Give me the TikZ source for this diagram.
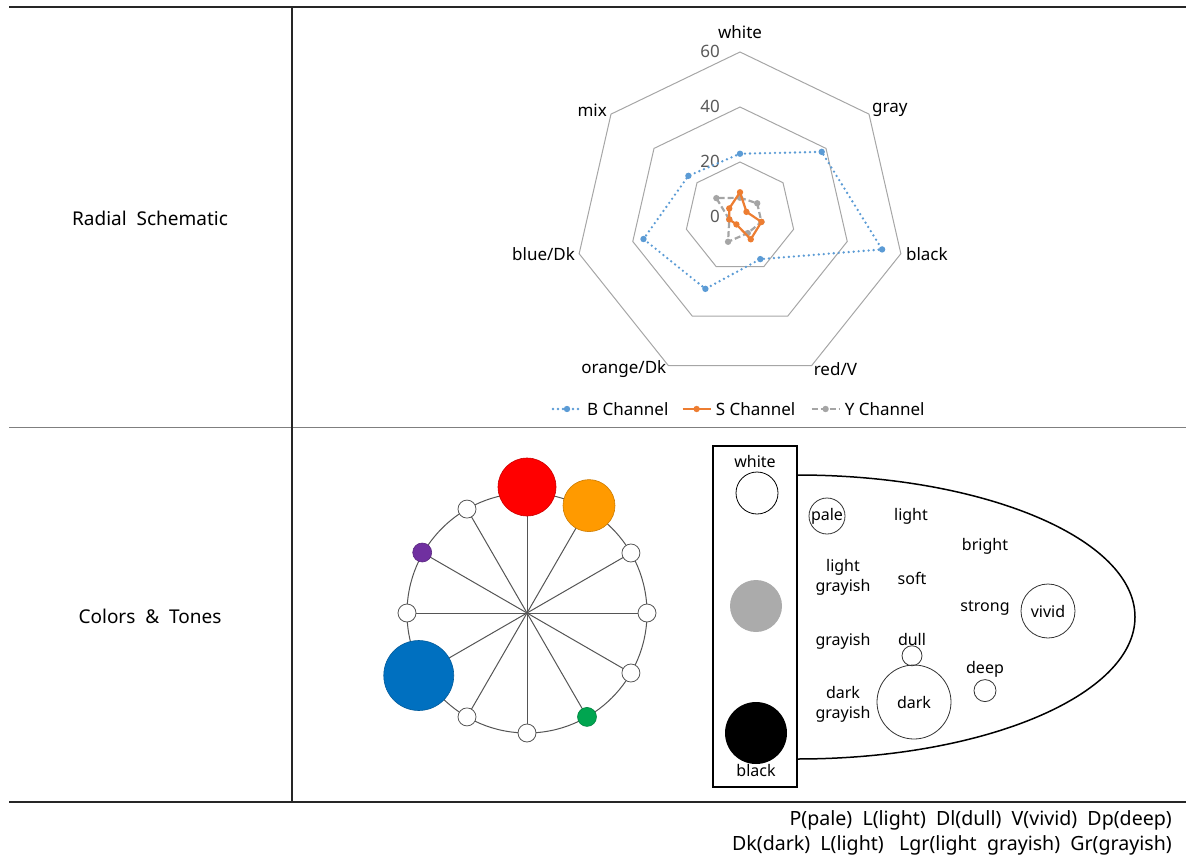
\documentclass[tikz,border=0pt]{standalone}
\usepackage{fontspec}
\setmainfont{Noto Sans}
\usetikzlibrary{positioning}

\definecolor{rulegray}{HTML}{7F7F7F}
\definecolor{gridgray}{HTML}{A6A6A6}
\definecolor{ticktext}{HTML}{595959}
\definecolor{bchan}{HTML}{5B9BD5}
\definecolor{schan}{HTML}{ED7D31}
\definecolor{ychan}{HTML}{A5A5A5}
\definecolor{hred}{HTML}{FF0000}
\definecolor{horange}{HTML}{FF9A00}
\definecolor{hblue}{HTML}{0070C0}
\definecolor{hgreen}{HTML}{00A550}
\definecolor{hpurple}{HTML}{7030A0}
\definecolor{tonegray}{HTML}{ABABAB}
\definecolor{wheelline}{HTML}{555555}

\newcommand{\lblfont}{\fontsize{17}{21}\selectfont}
\newcommand{\tonefont}{\fontsize{16}{20}\selectfont}
\newcommand{\rowfont}{\fontsize{19}{24}\selectfont}
\newcommand{\keyfont}{\fontsize{19.6}{24}\selectfont}

\tikzset{
  every node/.style={font=\lblfont, inner sep=1pt},
  table rule/.style={line width=1.5pt, draw=black!85},
  grid line/.style={draw=gridgray, line width=1pt},
  tick/.style={text=ticktext, anchor=east},
  bline/.style={draw=bchan, line width=2.6pt, line cap=round, dash pattern=on 0pt off 5pt},
  sline/.style={draw=schan, line width=2.2pt},
  yline/.style={draw=ychan, line width=2.2pt, dash pattern=on 6pt off 3pt},
  spoke/.style={draw=wheelline, line width=1pt},
  hue/.style={circle, draw=wheelline, fill=white, line width=0.8pt, inner sep=0pt, minimum size=#1},
  hue/.default=18pt,
  ring/.style={circle, draw=black!80, line width=0.8pt, inner sep=0pt, minimum size=#1},
  tone/.style={align=center, font=\tonefont},
  row/.style={font=\rowfont},
}

\begin{document}
\begin{tikzpicture}[x=1pt, y=-1pt]
\useasboundingbox (0,0) rectangle (1186,856);

% table frame
\draw[table rule] (9,7) -- (1186,7);
\draw[line width=1.2pt, draw=rulegray] (9,427.5) -- (1186,427.5);
\draw[line width=1.2pt, draw=black!85] (9,802) -- (1186,802);
\draw[table rule] (292,7) -- (292,802);
\node[row] (rowradar) at (150,218) {Radial\ \ Schematic};
\node[row] (rowtones) at (150,616) {Colors \ \&\ \ Tones};

% radar chart
\begin{scope}[shift={(740,217)}]
  \foreach \lv in {20,40,60}
    \draw[grid line] (-90:\lv*2.75) \foreach \k in {1,...,6}{ -- ({\k*360/7-90}:\lv*2.75)} -- cycle;
  \foreach \k in {0,...,6}
    \coordinate (v\k) at ({\k*360/7-90}:165);
  \foreach \lv in {0,20,40,60}
    \node[tick] (t\lv) at (-19,{-\lv*2.75-1}) {\lv};
  \node[above=12pt of v0] (ax-white) {white};
  \node[anchor=west, xshift=2pt, yshift=4pt] (ax-gray) at (v1) {gray};
  \node[anchor=west, xshift=4pt] (ax-black) at (v2) {black};
  \node[anchor=west, xshift=1pt, yshift=-3pt] (ax-red) at (v3) {red/V};
  \node[anchor=east, xshift=-1pt, yshift=-3pt] (ax-orange) at (v4) {orange/Dk};
  \node[anchor=east, xshift=-3pt] (ax-blue) at (v5) {blue/Dk};
  \node[anchor=east, xshift=-3pt, yshift=4pt] (ax-mix) at (v6) {mix};
  % B channel
  \foreach \v [count=\k from 0] in {23,38,53,17,29,36,24}
    \coordinate (b\k) at ({\k*360/7-90}:\v*2.75);
  \draw[bline] (b0) \foreach \k in {1,...,6}{ -- (b\k)} -- cycle;
  \foreach \k in {0,...,6} \fill[bchan] (b\k) circle (3.2pt);
  % Y channel
  \foreach \v [count=\k from 0] in {7,8,8,6.5,10,4,11}
    \coordinate (y\k) at ({\k*360/7-90}:\v*2.75);
  \draw[yline] (y0) \foreach \k in {1,...,6}{ -- (y\k)} -- cycle;
  \foreach \k in {0,...,6} \fill[ychan] (y\k) circle (3.2pt);
  % S channel
  \foreach \v [count=\k from 0] in {9,3,8,9,3,4,5}
    \coordinate (s\k) at ({\k*360/7-90}:\v*2.75);
  \draw[sline] (s0) \foreach \k in {1,...,6}{ -- (s\k)} -- cycle;
  \foreach \k in {0,...,6} \fill[schan] (s\k) circle (3.2pt);
\end{scope}

% legend
\node[anchor=west] (bleg) at (586,409) {B Channel};
\node[right=45pt of bleg] (sleg) {S Channel};
\node[right=47pt of sleg] (yleg) {Y Channel};
\draw[bline] ([xshift=-33pt]bleg.west) -- ([xshift=-4pt]bleg.west);
\fill[bchan] ([xshift=-19pt]bleg.west) circle (3.2pt);
\draw[sline] ([xshift=-32pt]sleg.west) -- ([xshift=-4pt]sleg.west);
\fill[schan] ([xshift=-18pt]sleg.west) circle (3.2pt);
\draw[yline] ([xshift=-32pt]yleg.west) -- ([xshift=-4pt]yleg.west);
\fill[ychan] ([xshift=-18pt]yleg.west) circle (3.2pt);

% hue wheel
\begin{scope}[shift={(527,613)}]
  \foreach \a in {0,30,...,150}
    \draw[spoke] (\a:120) -- (\a+180:120);
  \draw[spoke] (0,0) circle (120pt);
  \foreach \a in {120,30,0,-30,-90,-120,180}
    \node[hue] (w\a) at ({-1*\a}:120) {};
  \foreach \a/\d/\c/\s [count=\i] in {90/126/hred/58pt, 60/124/horange/52pt, -150/125/hblue/70pt, -60/120/hgreen/19pt, 150/121/hpurple/19pt}
    \node[hue=\s, fill=\c, draw=\c!80!black, line width=0.6pt] (c\i) at ({-1*\a}:\d) {};
\end{scope}

% tone panel
\draw[line width=1.8pt] (713,446) rectangle (797,787);
\draw[line width=1.5pt] (797,475) arc[start angle=90, end angle=-90, x radius=338pt, y radius=142pt];
\node[circle, draw, line width=0.8pt, minimum size=42pt, inner sep=0pt] (wcirc) at (757,493) {};
\node[circle, fill=tonegray, minimum size=52pt, inner sep=0pt] (gcirc) at (756,606) {};
\node[circle, fill=black, minimum size=62pt, inner sep=0pt] (kcirc) at (756,733) {};
\node[tone] (lwhite) at (755,461) {white};
\node[tone] (lblack) at (756,770) {black};

\node[ring=36pt, tone] (pale) at (827,516) {pale};
\node[tone] (light) at (911,516) {light};
\node[tone] (bright) at (985,546) {bright};
\node[tone] (lgray) at (843,577) {light\\grayish};
\node[tone] (soft) at (912,578) {soft};
\node[tone] (strong) at (985,608) {strong};
\node[ring=54pt, tone] (vivid) at (1048,611) {vivid};
\node[tone] (grayish) at (843,641) {grayish};
\node[tone] (dull) at (912,639) {dull};
\node[ring=20pt, below=-1pt of dull] (dullring) {};
\node[tone] (deep) at (985,669) {deep};
\node[ring=22pt, below=1pt of deep] (deepring) {};
\node[tone] (dgray) at (843,704) {dark\\grayish};
\node[ring=74pt, tone] (dark) at (914,702) {dark};

% key
\node[font=\keyfont, anchor=east] (key1) at (1173,820) {P(pale)\ \ L(light)\ \ Dl(dull)\ \ V(vivid)\ \ Dp(deep)};
\node[font=\keyfont, anchor=east] (key2) at (1173,845) {Dk(dark)\ \ L(light)\ \ \ Lgr(light\ \ grayish)\ \ Gr(grayish)};
\end{tikzpicture}
\end{document}
